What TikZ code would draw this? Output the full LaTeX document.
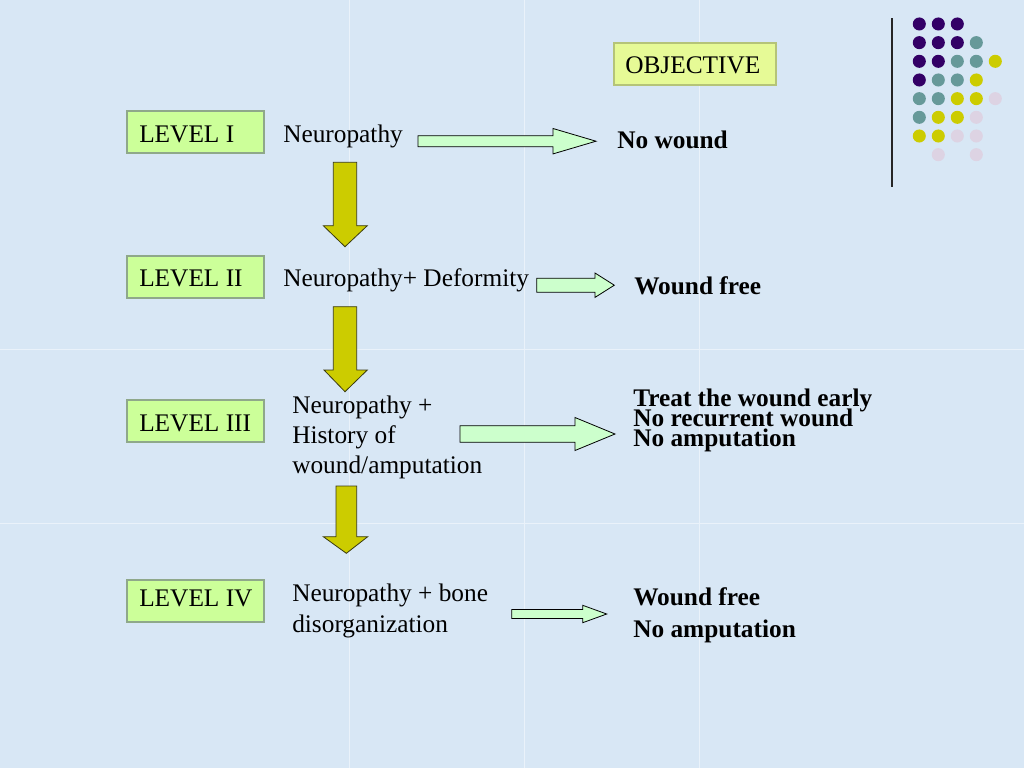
\documentclass[tikz,border=0pt]{standalone}
\usepackage{fontspec}
\setmainfont{Liberation Serif}
\definecolor{bgblue}{HTML}{D8E7F5}
\definecolor{tileline}{HTML}{EAF2FA}
\definecolor{levelfill}{HTML}{CCFF99}
\definecolor{levelborder}{HTML}{8FA88A}
\definecolor{objfill}{HTML}{E6FA96}
\definecolor{objborder}{HTML}{B5C478}
\definecolor{hfill}{HTML}{CCFFCC}
\definecolor{vfill}{HTML}{CCCC00}
\definecolor{vborder}{HTML}{3A3A10}
\definecolor{dpurple}{HTML}{330066}
\definecolor{dteal}{HTML}{669999}
\definecolor{dyellow}{HTML}{CCCC00}
\definecolor{dlav}{HTML}{DDD3E3}
\tikzset{
  px/.style={x=0.75pt,y=-0.75pt},
  lvlbox/.style={draw=levelborder,fill=levelfill,line width=0.8pt},
  objbox/.style={draw=objborder,fill=objfill,line width=0.8pt},
  txt/.style={anchor=base west,inner sep=0pt,font=\fontsize{19}{22.5}\selectfont},
  btxt/.style={anchor=base west,inner sep=0pt,font=\fontsize{19}{22.5}\selectfont\bfseries},
  harrow/.style={draw=black,fill=hfill,line width=0.6pt,line join=miter},
  varrow/.style={draw=vborder,fill=vfill,line width=0.6pt,line join=miter},
  dot/.style={circle,inner sep=0pt,minimum size=9.8pt},
}
% horizontal block arrow: #1 left x, #2 head base x, #3 tip x, #4 centre y, #5 shaft half, #6 head half
\newcommand{\harr}[6]{%
  \draw[harrow] (#1,#4-#5) -- (#2,#4-#5) -- (#2,#4-#6) -- (#3,#4) -- (#2,#4+#6) -- (#2,#4+#5) -- (#1,#4+#5) -- cycle;}
% vertical block arrow: #1 shaft left, #2 shaft right, #3 head left, #4 head right, #5 top y, #6 head base y, #7 tip y
\newcommand{\varr}[7]{%
  \draw[varrow] (#1,#5) -- (#2,#5) -- (#2,#6) -- (#4,#6) -- ({(#1+#2)/2},#7) -- (#3,#6) -- (#1,#6) -- cycle;}
\begin{document}
\begin{tikzpicture}[px]
\useasboundingbox (0,0) rectangle (1024,768);
\fill[bgblue] (0,0) rectangle (1024,768);
\foreach \xx in {349,524,699} \draw[tileline,line width=0.6pt] (\xx,0) -- (\xx,768);
\foreach \yy in {349,523} \draw[tileline,line width=0.6pt] (0,\yy) -- (1024,\yy);

% decorative dot grid and rule
\draw[black!85,line width=1.1pt] (892,18) -- (892,187);
\foreach \c/\r/\col in {1/1/dpurple,2/1/dpurple,3/1/dpurple,
  1/2/dpurple,2/2/dpurple,3/2/dpurple,4/2/dteal,
  1/3/dpurple,2/3/dpurple,3/3/dteal,4/3/dteal,5/3/dyellow,
  1/4/dpurple,2/4/dteal,3/4/dteal,4/4/dyellow,
  1/5/dteal,2/5/dteal,3/5/dyellow,4/5/dyellow,5/5/dlav,
  1/6/dteal,2/6/dyellow,3/6/dyellow,4/6/dlav,
  1/7/dyellow,2/7/dyellow,3/7/dlav,4/7/dlav,
  2/8/dlav,4/8/dlav}
  \node[dot,fill=\col] (d\c\r) at ({900.3+19*\c},{5.3+18.67*\r}) {};

% objective header
\draw[objbox] (614,43) rectangle (776,85);
\node[txt] (obj) at (625,73) {OBJECTIVE};

% level boxes
\draw[lvlbox] (127,111) rectangle (264,153);
\node[txt] (l1) at (139,142.5) {LEVEL I};
\draw[lvlbox] (127,256) rectangle (264,298);
\node[txt] (l2) at (139,286) {LEVEL II};
\draw[lvlbox] (127,400) rectangle (264,442);
\node[txt] (l3) at (139,431) {LEVEL III};
\draw[lvlbox] (127,580) rectangle (264,622);
\node[txt] (l4) at (139,606.7) {LEVEL IV};

% descriptions
\node[txt] (n1) at (283,142.5) {Neuropathy};
\node[txt] (n2) at (283,286) {Neuropathy+ Deformity};
\node[txt] (n3a) at (292,413.3) {Neuropathy +};
\node[txt] (n3b) at (292,443.3) {History of};
\node[txt] (n3c) at (292,473.3) {wound/amputation};
\node[txt] (n4a) at (292,601.5) {Neuropathy + bone};
\node[txt] (n4b) at (292,632) {disorganization};

% objectives
\node[btxt] (o1) at (617,148.3) {No wound};
\node[btxt] (o2) at (634,294.5) {Wound free};
\node[btxt] (o3a) at (633,406.7) {Treat the wound early};
\node[btxt] (o3b) at (633,426.7) {No recurrent wound};
\node[btxt] (o3c) at (633,446.7) {No amputation};
\node[btxt] (o4a) at (633,605.5) {Wound free};
\node[btxt] (o4b) at (633,637) {No amputation};

% horizontal arrows
\harr{418}{553}{596}{141.2}{5.5}{12.7}
\harr{536.7}{595}{614.3}{285.2}{7}{12.2}
\harr{460}{575}{615}{434}{8.3}{16.5}
\harr{511.7}{582.7}{606.7}{614}{4.5}{8.7}

% vertical arrows
\varr{333.3}{356.7}{323.3}{367.3}{162.3}{225.7}{246.7}
\varr{333.3}{356.7}{324}{367.3}{306.7}{370}{391.7}
\varr{336}{356.7}{323.3}{367.7}{486}{536.7}{553.3}
\end{tikzpicture}
\end{document}
